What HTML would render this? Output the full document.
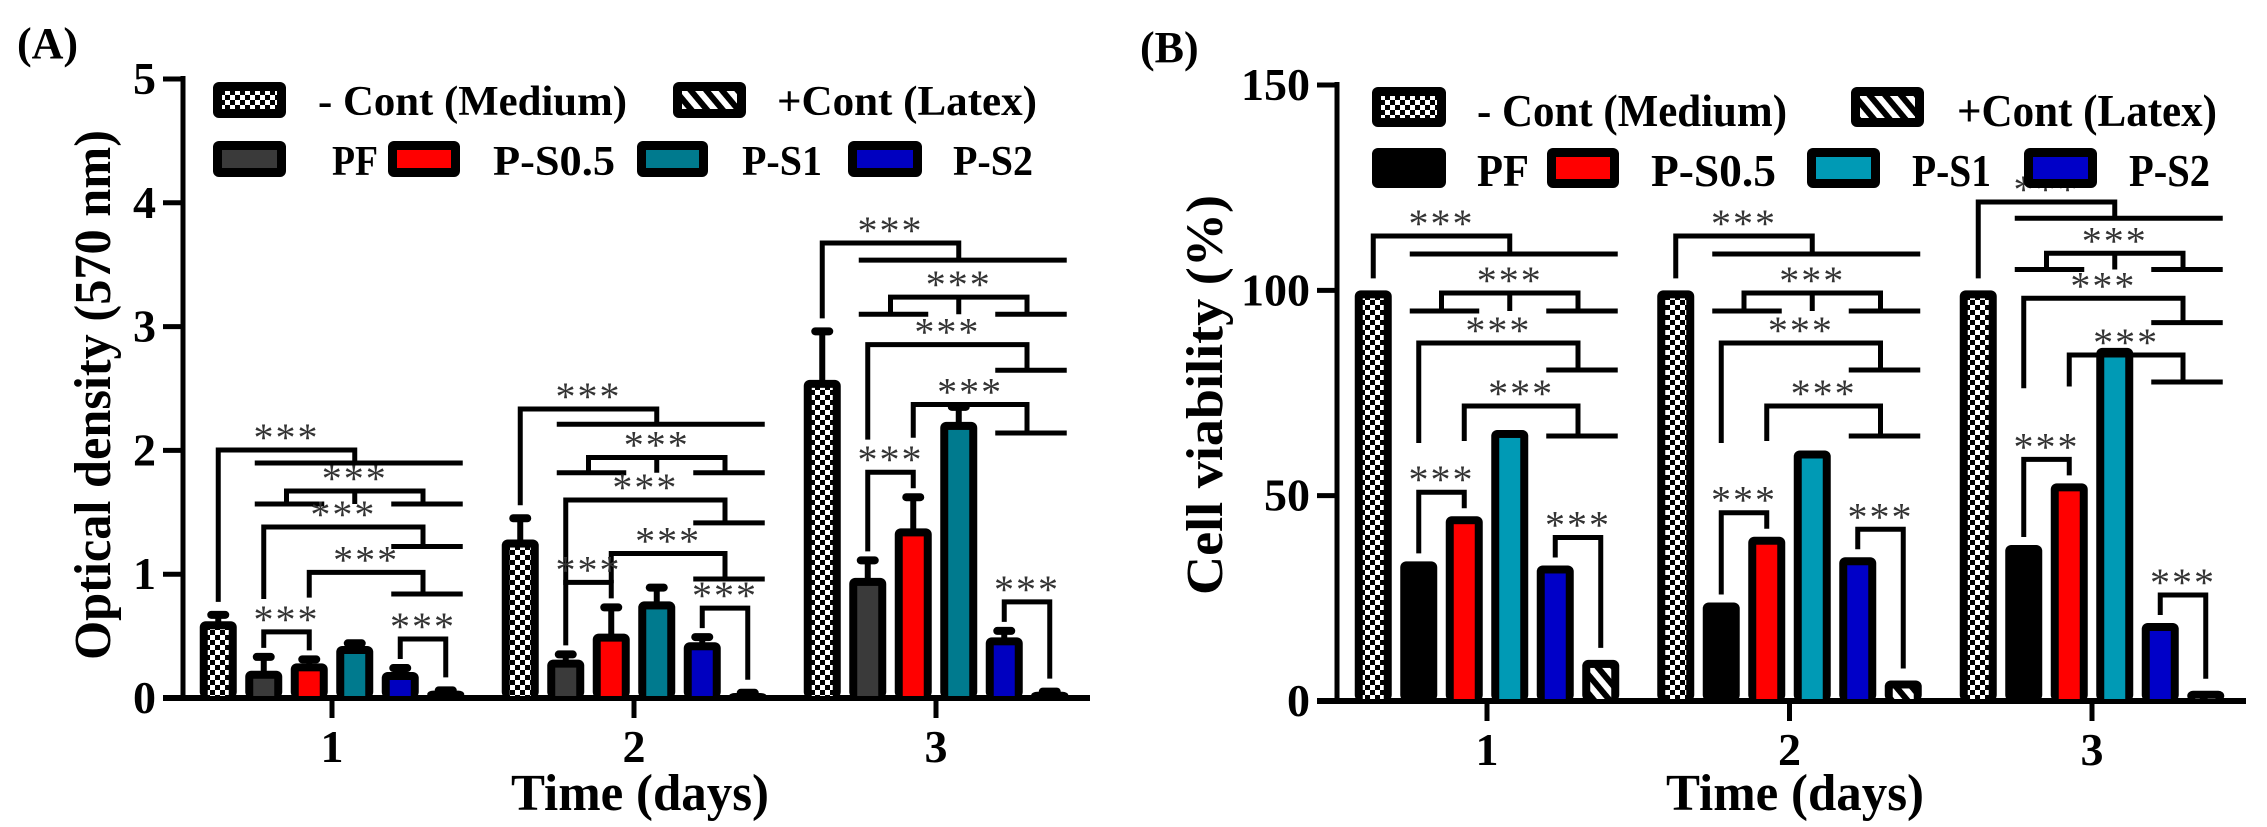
<!DOCTYPE html>
<html><head><meta charset="utf-8"><style>
html,body{margin:0;padding:0;background:#fff;}
svg{display:block;font-family:"Liberation Serif",serif;}
</style></head><body>
<svg id="fig" width="2267" height="827" viewBox="0 0 2267 827" xmlns="http://www.w3.org/2000/svg">
<defs>
<pattern id="checker" width="10" height="10" patternUnits="userSpaceOnUse"><rect width="10" height="10" fill="#fff"/><rect width="5" height="5" fill="#000"/><rect x="5" y="5" width="5" height="5" fill="#000"/></pattern>
<pattern id="hatch" width="12" height="12" patternUnits="userSpaceOnUse" patternTransform="rotate(-40)"><rect width="12" height="12" fill="#fff"/><rect width="6" height="12" fill="#000"/></pattern>
</defs>
<g id="root"></g>
</svg>
<script>
// ---- data ----
const categories = ['1','2','3'];
const seriesNames = ['- Cont (Medium)','PF','P-S0.5','P-S1','P-S2','+Cont (Latex)'];
// Panel A: optical density
const contA  = [0.62, 1.28, 2.57];
const pfA    = [0.22, 0.31, 0.97];
const ps05A  = [0.28, 0.52, 1.37];
const ps1A   = [0.42, 0.78, 2.23];
const ps2A   = [0.21, 0.45, 0.49];
const latexA = [0.06, 0.04, 0.05];
const contErrA  = [0.06, 0.18, 0.40];
const pfErrA    = [0.12, 0.05, 0.15];
const ps05ErrA  = [0.04, 0.22, 0.26];
const ps1ErrA   = [0.03, 0.12, 0.13];
const ps2ErrA   = [0.04, 0.05, 0.06];
const latexErrA = [0.01, 0.01, 0.01];
const yTicksA = ['0','1','2','3','4','5'];
// Panel B: cell viability
const contB  = [100, 100, 100];
const pfB    = [34, 24, 38];
const ps05B  = [45, 40, 53];
const ps1B   = [66, 61, 86];
const ps2B   = [33, 35, 19];
const latexB = [10, 5, 2.5];
const yTicksB = ['0','50','100','150'];

const NS='http://www.w3.org/2000/svg';
const root=document.getElementById('root');
function el(tag,attrs,parent){const e=document.createElementNS(NS,tag);for(const k in attrs)e.setAttribute(k,attrs[k]);(parent||root).appendChild(e);return e;}
function txt(s,attrs,parent){const e=el('text',attrs,parent);e.textContent=s;return e;}

function drawPanel(P){
  const g=el('g',{});
  
  
  const y=v=>P.y0-(v/P.ymax)*(P.y0-P.ytop);
  const gx=i=>P.gx0+i*P.gstep;
  const pl=txt(P.label,{x:P.labelX,y:P.labelY,'font-size':44,'font-weight':'bold'},g);
  
  
  const ya=el('line',{x1:P.ax,y1:P.ytop-3,x2:P.ax,y2:P.y0+3,stroke:'#000','stroke-width':5},g);
  
  
  P.yticks.forEach(t=>{
    const v=parseFloat(t);
    el('line',{x1:P.ax-20,y1:y(v),x2:P.ax,y2:y(v),stroke:'#000','stroke-width':5},g);
    const tl=txt(t,{x:P.ax-27,y:y(v)+15,'font-size':46,'font-weight':'bold','text-anchor':'end'},g);
    
    
  });
  const xa=el('line',{x1:P.ax-20,y1:P.y0,x2:P.xend,y2:P.y0,stroke:'#000','stroke-width':6},g);
  
  
  categories.forEach((c,i)=>{
    el('line',{x1:gx(i),y1:P.y0,x2:gx(i),y2:P.y0+20,stroke:'#000','stroke-width':5},g);
    const xl=txt(c,{x:gx(i),y:P.y0+64,'font-size':46,'font-weight':'bold','text-anchor':'middle'},g);
    
    
  });
  const xt=txt('Time (days)',{x:P.xtX,y:810,'font-size':52,'font-weight':'bold','text-anchor':'middle',textLength:258,lengthAdjust:'spacingAndGlyphs'},g);
  
  
  const yt=txt(P.ytitle,{x:0,y:0,'font-size':52,'font-weight':'bold','text-anchor':'middle',textLength:P.ytLen,lengthAdjust:'spacingAndGlyphs',transform:`translate(${P.ytX},${P.ytY}) rotate(-90)`},g);
  
  
  const BW=37, PITCH=45.5, IN=8;
  const bx=(i,s)=>gx(i)+(s-2.5)*PITCH;
  const topOf=(i,s)=>y(P.series[s][i]+(P.errs?P.errs[s][i]:0));
  categories.forEach((c,i)=>{
    for(let s=0;s<6;s++){
      const v=P.series[s][i];
      const x=bx(i,s)-BW/2, yt2=y(v), h=P.y0-yt2;
      if(P.errs){
        const e=P.errs[s][i];
        const ye=y(v+e);
        const eb=el('line',{x1:bx(i,s),y1:yt2+2,x2:bx(i,s),y2:ye,stroke:'#000','stroke-width':6},g);
        
        
        el('rect',{x:bx(i,s)-11,y:ye-3,width:22,height:8,rx:4,fill:'#000'},g);
      }
      const b=el('rect',{x:x,y:yt2,width:BW,height:h,rx:6,fill:'#000'},g);
      
      
      if(h>IN+2 && P.fills[s]!=='#000'){
        el('rect',{x:x+IN,y:yt2+IN,width:BW-2*IN,height:Math.max(0,h-IN-2),fill:P.fills[s]},g);
      }
    }
    const T=P.T[i], sp=P.spread[i];
    const b0=bx(i,0),b1=bx(i,1),b2=bx(i,2),b3=bx(i,3),b4=bx(i,4),b5=bx(i,5);
    const m45=(b4+b5)/2, m12=(b1+b2)/2;
    const sw={stroke:'#000','stroke-width':5,fill:'none'};
    const star=(x,top)=>{const st=txt('***',{x:x,y:top+1,'font-size':40,fill:'#333','text-anchor':'middle','letter-spacing':2},g);};
    const bg=el('g',{},g);
    
    
    const pth=d=>el('path',Object.assign({d:d},sw),bg);
    const a1=T, a2=T+18*sp;
    pth(`M${b0} ${topOf(i,0)-12} V${a1} H${b3} V${a2}`);
    pth(`M${b1-9} ${a2} H${b5+17}`);
    star((b0+b3)/2,a1);
    const bt=T+57*sp, bf=T+75*sp;
    pth(`M${b1-9} ${bf} H${b2+15} M${m12} ${bf} V${bt} H${m45} V${bf} M${b4-9} ${bf} H${b5+17} M${b3} ${bt} V${bf}`);
    star(b3,bt);
    const ct=T+107*sp, cf=T+134*sp;
    const cl=Math.min(T+207*sp, topOf(i,1)-12);
    pth(`M${b1} ${cl} V${ct} H${m45} V${cf} M${b4-9} ${cf} H${b5+17}`);
    star((b1+m45)/2,ct);
    const dt=T+170*sp, df=T+200*sp;
    const dl=Math.min(T+205*sp, topOf(i,2)-12);
    pth(`M${b2} ${dl} V${dt} H${m45} V${df} M${b4-9} ${df} H${b5+17}`);
    star((b2+m45)/2,dt);
    const s1=Math.min(topOf(i,1),topOf(i,2))-24;
    pth(`M${b1} ${topOf(i,1)-8} V${s1} H${b2} V${topOf(i,2)-8}`);
    star((b1+b2)/2,s1);
    const s2=topOf(i,4)-28;
    pth(`M${b4} ${topOf(i,4)-8} V${s2} H${b5} V${topOf(i,5)-12}`);
    star((b4+b5)/2,s2);
  });
  const lg=el('g',{},g);
  
  
  P.legend.forEach(L=>{
    const it=el('g',{},lg);
    
    
    el('rect',{x:L.sx,y:L.sy,width:L.sw,height:P.legH,rx:6,fill:'#000'},it);
    if(P.fills[L.s]!=='#000') el('rect',{x:L.sx+9,y:L.sy+9,width:L.sw-18,height:P.legH-18,fill:P.fills[L.s]},it);
    txt(seriesNames[L.s],{x:L.tx,y:L.ty,'font-size':P.legFont,'font-weight':'bold',textLength:L.tw,lengthAdjust:'spacingAndGlyphs'},it);
  });
}

drawPanel({
  name:'panel-a-optical-density',label:'(A)',labelX:17,labelY:58,
  ax:183,y0:698,ytop:79,ymax:5,xend:1090,gx0:332,gstep:302,
  yticks:yTicksA,ytitle:'Optical density (570 nm)',ytX:110,ytY:395,ytLen:530,xtX:640,
  series:[contA,pfA,ps05A,ps1A,ps2A,latexA],
  errs:[contErrA,pfErrA,ps05ErrA,ps1ErrA,ps2ErrA,latexErrA],
  keys:['cont','pf','ps05','ps1','ps2','latex'],
  fills:['url(#checker)','#3a3a3a','#ff0000','#007a8e','#0000c0','url(#hatch)'],
  T:[450,409,243],spread:[0.72,0.85,0.95],
  legH:36,legFont:42,
  legend:[
    {s:0,sx:213,sy:82,sw:73,tx:318,ty:115,tw:309},
    {s:5,sx:673,sy:82,sw:73,tx:777,ty:115,tw:260},
    {s:1,sx:213,sy:141,sw:73,tx:332,ty:175,tw:46},
    {s:2,sx:388,sy:141,sw:72,tx:493,ty:175,tw:122},
    {s:3,sx:637,sy:141,sw:71,tx:742,ty:175,tw:80},
    {s:4,sx:848,sy:141,sw:74,tx:953,ty:175,tw:80}
  ]
});
drawPanel({
  name:'panel-b-cell-viability',label:'(B)',labelX:1140,labelY:62,
  ax:1337,y0:701,ytop:85,ymax:150,xend:2246,gx0:1487,gstep:302.5,
  yticks:yTicksB,ytitle:'Cell viability (%)',ytX:1222,ytY:395,ytLen:400,xtX:1795,
  series:[contB,pfB,ps05B,ps1B,ps2B,latexB],
  errs:null,
  keys:['cont','pf','ps05','ps1','ps2','latex'],
  fills:['url(#checker)','#000','#ff0000','#009ab5','#0000c8','url(#hatch)'],
  T:[236,236,202],spread:[1,1,0.9],
  legH:40,legFont:46,
  legend:[
    {s:0,sx:1372,sy:87,sw:74,tx:1477,ty:126,tw:310},
    {s:5,sx:1851,sy:87,sw:73,tx:1957,ty:126,tw:260},
    {s:1,sx:1372,sy:148,sw:74,tx:1477,ty:186,tw:52},
    {s:2,sx:1547,sy:148,sw:72,tx:1651,ty:186,tw:125},
    {s:3,sx:1807,sy:148,sw:73,tx:1912,ty:186,tw:79},
    {s:4,sx:2024,sy:148,sw:73,tx:2129,ty:186,tw:81}
  ]
});
</script>
</body></html>
